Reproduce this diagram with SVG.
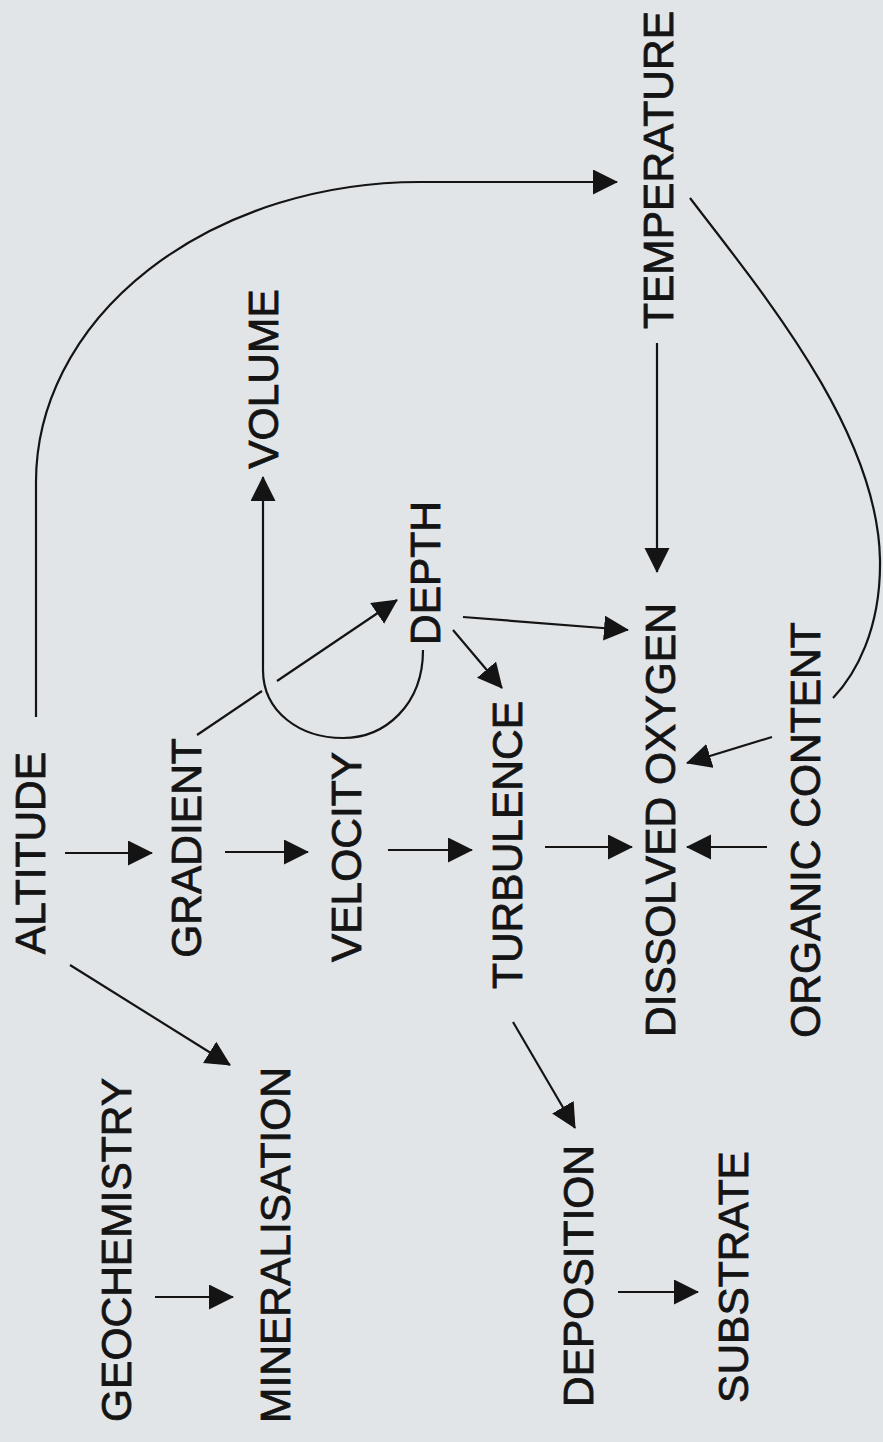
<svg xmlns="http://www.w3.org/2000/svg" width="883" height="1442" viewBox="0 0 883 1442">
  <style>
    .lbl { font-family: "Liberation Sans", Arial, sans-serif; font-size: 42.5px; fill: #141414; stroke: #141414; stroke-width: 0.8; text-anchor: middle; }
    .c { fill: none; stroke: #141414; stroke-width: 2.2; }
    .a { marker-end: url(#ah); }
  </style>
  <defs>
    <marker id="ah" markerUnits="userSpaceOnUse" markerWidth="26" markerHeight="26" refX="24" refY="12.5" orient="auto">
      <path d="M0,0 L25,12.5 L0,25 Z" fill="#141414"/>
    </marker>
  </defs>
  <rect width="883" height="1442" fill="#e2e5e8"/>

  <g id="connectors">
    <path class="c a" d="M65,853 L152,853"/>
    <path class="c a" d="M225,852 L308,852"/>
    <path class="c a" d="M388,850 L472,850"/>
    <path class="c a" d="M545,847 L632,847"/>
    <path class="c a" d="M767,847 L687,847"/>
    <path class="c a" d="M772,737 L687,763"/>
    <path class="c a" d="M463,617 L628,630"/>
    <path class="c a" d="M453,630 L502,688"/>
    <path class="c" d="M197,735 L262,691"/>
    <path class="c a" d="M277,681 L397,600"/>
    <path class="c a" d="M423,650 C423,705 385,738 343,738 C300,738 263,712 263,670 L263,477"/>
    <path class="c a" d="M657,343 L657,572"/>
    <path class="c a" d="M36,717 L36,482 A384,300 0 0 1 420,182 L617,182"/>
    <path class="c" d="M690,198 C760,290 878,430 880,560 C881,630 855,675 833,698"/>
    <path class="c a" d="M70,965 L230,1065"/>
    <path class="c a" d="M155,1297 L233,1297"/>
    <path class="c a" d="M513,1022 L575,1128"/>
    <path class="c a" d="M618,1292 L698,1292"/>
  </g>

  <g id="altitude"><text class="lbl" transform="translate(45,853) rotate(-90)">ALTITUDE</text></g>
  <g id="gradient"><text class="lbl" transform="translate(201,848) rotate(-90)">GRADIENT</text></g>
  <g id="velocity"><text class="lbl" transform="translate(361,857) rotate(-90)">VELOCITY</text></g>
  <g id="turbulence"><text class="lbl" transform="translate(522,845) rotate(-90)">TURBULENCE</text></g>
  <g id="dissolved-oxygen"><text class="lbl" transform="translate(675,820) rotate(-90)">DISSOLVED OXYGEN</text></g>
  <g id="organic-content"><text class="lbl" transform="translate(820,830) rotate(-90)">ORGANIC CONTENT</text></g>
  <g id="volume"><text class="lbl" transform="translate(278,379) rotate(-90)">VOLUME</text></g>
  <g id="depth"><text class="lbl" transform="translate(440,573) rotate(-90)">DEPTH</text></g>
  <g id="temperature"><text class="lbl" transform="translate(673,170) rotate(-90)">TEMPERATURE</text></g>
  <g id="geochemistry"><text class="lbl" transform="translate(131,1250) rotate(-90)">GEOCHEMISTRY</text></g>
  <g id="mineralisation"><text class="lbl" transform="translate(290,1245) rotate(-90)">MINERALISATION</text></g>
  <g id="deposition"><text class="lbl" transform="translate(593,1276) rotate(-90)">DEPOSITION</text></g>
  <g id="substrate"><text class="lbl" transform="translate(748,1277) rotate(-90)">SUBSTRATE</text></g>
</svg>
